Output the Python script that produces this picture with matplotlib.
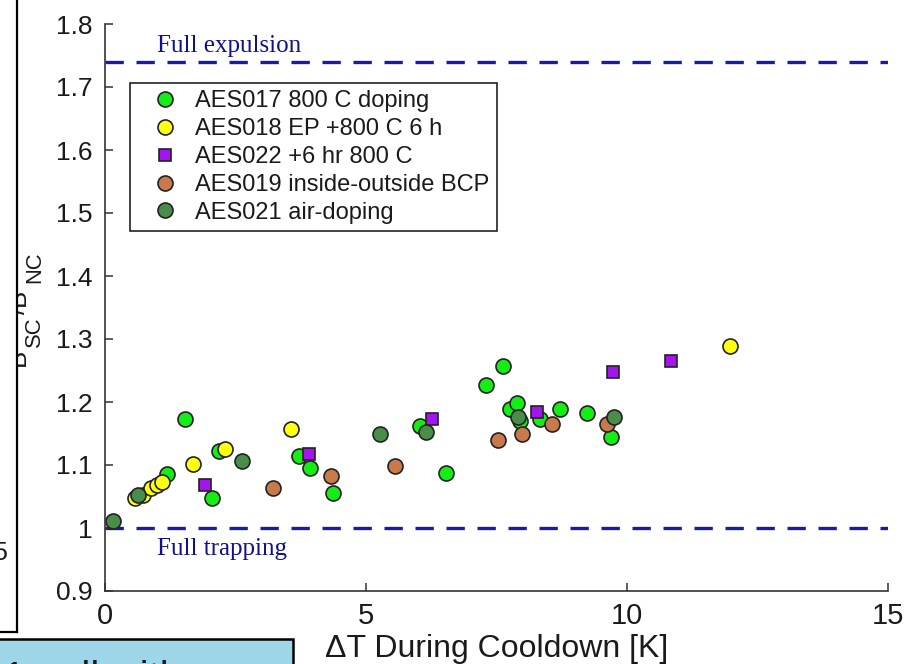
import matplotlib
matplotlib.use("Agg")
import matplotlib.pyplot as plt
from matplotlib.patches import Rectangle
from matplotlib.lines import Line2D

plt.rcParams['font.family'] = ['Liberation Sans', 'DejaVu Sans']

# ---- data: field ratio vs. temperature difference across the cavity ----
aes017_x = [1.53, 1.19, 2.05, 2.18, 3.72, 3.93, 4.37, 6.03, 6.53, 7.30, 7.62,
            7.76, 7.89, 7.95, 8.33, 8.72, 9.23, 9.69]
aes017_y = [1.173, 1.086, 1.048, 1.122, 1.114, 1.095, 1.056, 1.162, 1.087, 1.227,
            1.257, 1.189, 1.198, 1.170, 1.173, 1.189, 1.183, 1.144]

aes018_x = [0.57, 0.73, 0.88, 1.00, 1.09, 1.69, 2.30, 3.56, 11.97]
aes018_y = [1.048, 1.052, 1.063, 1.068, 1.073, 1.102, 1.125, 1.157, 1.289]

aes022_x = [1.92, 3.91, 6.26, 8.28, 9.73, 10.85]
aes022_y = [1.068, 1.117, 1.173, 1.184, 1.248, 1.265]

aes019_x = [3.21, 4.33, 5.56, 7.53, 7.99, 8.56, 9.62]
aes019_y = [1.064, 1.083, 1.099, 1.139, 1.149, 1.165, 1.165]

aes021_x = [0.15, 0.63, 2.62, 5.27, 6.15, 7.91, 9.75]
aes021_y = [1.011, 1.052, 1.106, 1.149, 1.152, 1.176, 1.176]

series_labels = ["AES017 800 C doping", "AES018 EP +800 C 6 h", "AES022 +6 hr 800 C",
                 "AES019 inside-outside BCP", "AES021 air-doping"]

full_expulsion = 1.74
full_trapping = 1.0

x_ticks = [0, 5, 10, 15]
y_ticks = [0.9, 1.0, 1.1, 1.2, 1.3, 1.4, 1.5, 1.6, 1.7, 1.8]
y_tick_labels = ["0.9", "1", "1.1", "1.2", "1.3", "1.4", "1.5", "1.6", "1.7", "1.8"]

W, H = 910, 664
fig = plt.figure(figsize=(W / 100, H / 100), dpi=100)


def fx(px):
    return px / W


def fy(py):
    return 1 - py / H


ax = fig.add_axes([fx(105), fy(591), fx(888) - fx(105), fy(24) - fy(591)])

txt = '#1a1a1a'
edge = '#222222'
circ = dict(marker='o', linestyle='none', markersize=10.8,
            markeredgecolor=edge, markeredgewidth=1.2)

h1, = ax.plot(aes017_x, aes017_y, markerfacecolor='#14ee14', **circ)
h2, = ax.plot(aes018_x, aes018_y, markerfacecolor='#ffff10', **circ)
h3, = ax.plot(aes022_x, aes022_y, marker='s', linestyle='none', markersize=8.5,
              markerfacecolor='#a414f0', markeredgecolor=edge, markeredgewidth=1.2)
h4, = ax.plot(aes019_x, aes019_y, markerfacecolor='#c97a4c', **circ)
h5, = ax.plot(aes021_x, aes021_y, markerfacecolor='#4a8c4a', **circ)

dash = dict(color='#1a1aa8', linewidth=2.4, linestyle=(0, (5.5, 3.8)), zorder=1)
ax.axhline(full_expulsion, **dash)
ax.axhline(full_trapping, **dash)

serif = ['Liberation Serif', 'DejaVu Serif']
ax.text(1.0, 1.765, "Full expulsion", family=serif, fontsize=18,
        color='#10108a', va='center', ha='left')
ax.text(1.0, 0.967, "Full trapping", family=serif, fontsize=18,
        color='#10108a', va='center', ha='left')

ax.set_xlim(0, 15)
ax.set_ylim(0.9, 1.8)
ax.set_xticks(x_ticks)
ax.set_yticks(y_ticks)
ax.set_yticklabels(y_tick_labels)
ax.tick_params(direction='in', length=6, width=1.1, color='#333333')
ax.tick_params(axis='y', labelsize=19, pad=9, labelcolor=txt)
ax.tick_params(axis='x', labelsize=21, pad=8, labelcolor=txt)
for s in ('top', 'right'):
    ax.spines[s].set_visible(False)
for s in ('left', 'bottom'):
    ax.spines[s].set_color('#333333')
    ax.spines[s].set_linewidth(1.2)

ax.set_xlabel("\u0394T During Cooldown [K]", fontsize=23, color=txt, labelpad=3)

leg = ax.legend([h1, h2, h3, h4, h5], series_labels, loc='upper left',
                bbox_to_anchor=(fx(130), fy(83)), bbox_transform=fig.transFigure,
                fontsize=17, frameon=True, fancybox=False, framealpha=1,
                handlelength=2.4, handletextpad=0.06, borderpad=0.3,
                labelspacing=0.25, borderaxespad=0, numpoints=1)
leg.get_frame().set_edgecolor('#222222')
leg.get_frame().set_linewidth(1.2)
for t in leg.get_texts():
    t.set_color(txt)

# rotated y-axis label, built from pieces so the subscripts sit low
ylab = [("B", 26, 25, 366), ("SC", 22, 40, 347), ("/", 26, 25, 314),
        ("B", 26, 25, 306), ("NC", 22, 40, 283)]
for s, size_px, base_x, start_y in ylab:
    fig.text(fx(base_x), fy(start_y), s, rotation=90, rotation_mode='anchor',
             ha='left', va='baseline', fontsize=size_px * 0.72, color=txt, zorder=3)

# neighbouring slide panel on the left
fig.patches.append(Rectangle((0, fy(632)), fx(17), 1 - fy(632), transform=fig.transFigure,
                             facecolor='white', edgecolor='none', zorder=10))
fig.text(fx(-7), fy(553), "5", fontsize=18, color=txt, va='center', ha='left', zorder=11)
fig.lines.append(Line2D([fx(17), fx(17)], [1, fy(632)], transform=fig.transFigure,
                        color='black', linewidth=1.6, zorder=12))
fig.lines.append(Line2D([0, fx(17)], [fy(632), fy(632)], transform=fig.transFigure,
                        color='black', linewidth=1.6, zorder=12))

# caption box at the bottom left
fig.patches.append(Rectangle((fx(-5), fy(680)), fx(298), fy(639) - fy(680),
                             transform=fig.transFigure, facecolor='#9dd6e8',
                             edgecolor='black', linewidth=1.8, zorder=10))
fig.text(fx(3), fy(690), "1-cell with", fontsize=29, color=txt, va='baseline',
         ha='left', zorder=11)

fig.savefig("out.png", dpi=100)
